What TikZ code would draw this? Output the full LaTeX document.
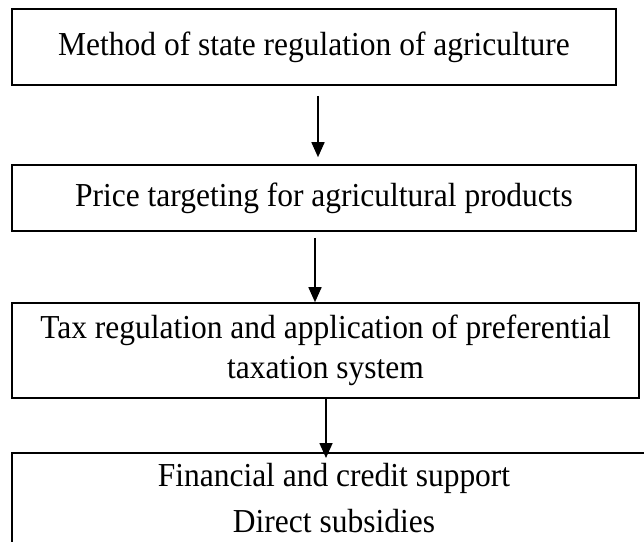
\documentclass[tikz,border=0pt]{standalone}
\usepackage{fontspec}
\setmainfont{Liberation Serif}[FakeStretch=0.94]
\usetikzlibrary{arrows.meta}
\begin{document}
\begin{tikzpicture}[x=1pt,y=-1pt,
  box/.style={draw, line width=1.6pt, rectangle, inner sep=0pt, align=center},
  lbl/.style={inner sep=0pt, align=center},
  txt/.style={font=\fontsize{33.5}{40}\selectfont},
  arr/.style={line width=1.6pt, -{Triangle[width=13pt,length=15pt]}}]
\useasboundingbox (0,0) rectangle (644,541);
\node[box, txt, minimum width=604pt, minimum height=76pt] (b1) at (314,47) {Method of state regulation of agriculture};
\node[box, txt, minimum width=624pt, minimum height=66pt] (b2) at (324,198) {Price targeting for agricultural products};
\node[box, txt, minimum width=627pt, minimum height=95pt] (b3) at (325.5,350.5) {Tax regulation and application of preferential\\taxation system};
\node[box, minimum width=644pt, minimum height=160pt, anchor=north] (b4) at (334,452) {};
\node[lbl, font=\fontsize{33.5}{46}\selectfont] (t4) at (334,498) {Financial and credit support\\Direct subsidies};
\coordinate (a1) at (318,0);
\coordinate (a2) at (315,0);
\coordinate (a3) at (326,0);
\draw[arr, shorten <=10pt, shorten >=7pt] (b1.south -| a1) -- (b2.north -| a1);
\draw[arr, shorten <=6pt] (b2.south -| a2) -- (b3.north -| a2);
\draw[arr, shorten >=-6pt] (b3.south -| a3) -- (b4.north -| a3);
\end{tikzpicture}
\end{document}
